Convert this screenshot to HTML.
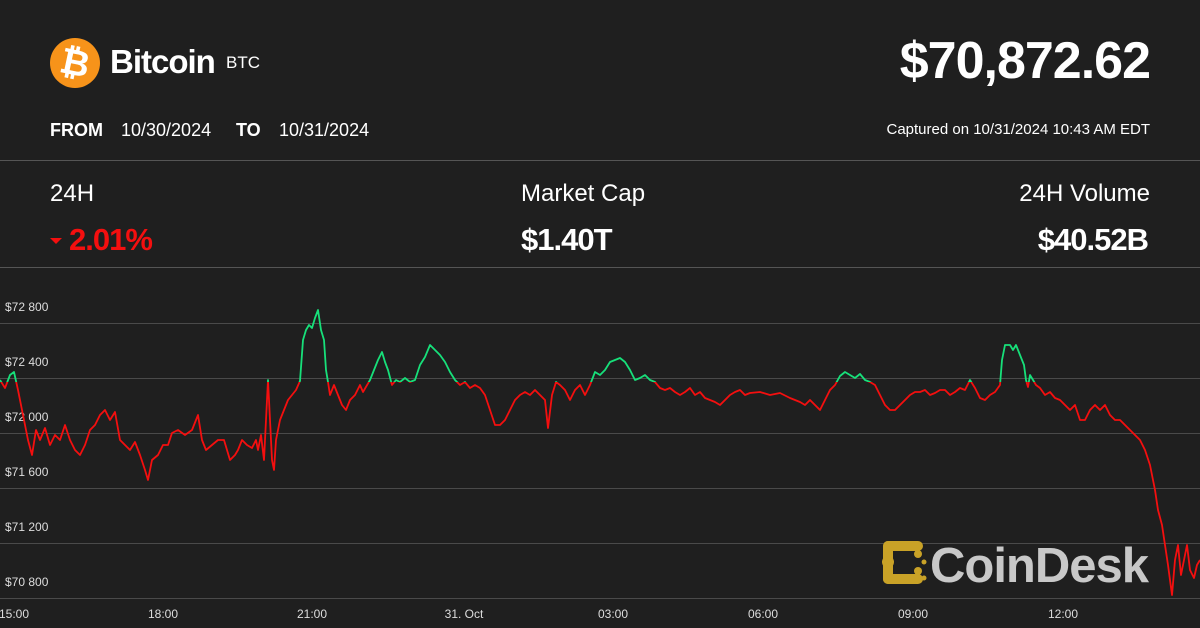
<!DOCTYPE html>
<html><head><meta charset="utf-8"><style>
body{margin:0;width:1200px;height:628px;background:#1f1f1f;overflow:hidden;font-family:"Liberation Sans",sans-serif;color:#fff;position:relative}
.a{position:absolute;white-space:nowrap}
.d{position:absolute;top:120px;font:18px 'Liberation Sans';white-space:nowrap}
</style></head><body>
<div class="a" style="left:50px;top:38px;width:50px;height:50px;border-radius:50%;background:#f7931a"></div>
<div class="a" style="left:60px;top:38px;width:30px;font:bold 36px 'Liberation Sans';line-height:50px;text-align:center;transform:rotate(12deg)">₿</div>
<div class="a" style="left:110px;top:43px;font:bold 33px 'Liberation Sans';letter-spacing:-1px">Bitcoin</div>
<div class="a" style="left:226px;top:53px;font:17px 'Liberation Sans'">BTC</div>
<div class="a" style="right:50px;top:31px;font:bold 52px 'Liberation Sans';letter-spacing:-1px">$70,872.62</div>
<div class="d" style="left:50px;font-weight:bold">FROM</div>
<div class="d" style="left:121px">10/30/2024</div>
<div class="d" style="left:236px;font-weight:bold">TO</div>
<div class="d" style="left:279px">10/31/2024</div>
<div class="a" style="right:50px;top:121px;font:15px 'Liberation Sans'">Captured on 10/31/2024 10:43 AM EDT</div>
<div class="a" style="left:0;top:160px;width:1200px;height:1px;background:#555"></div>
<div class="a" style="left:50px;top:180px;font:24px 'Liberation Sans'">24H</div>
<div class="a" style="left:50px;top:238px;width:0;height:0;border-left:6px solid transparent;border-right:6px solid transparent;border-top:6px solid #f40f0f"></div>
<div class="a" style="left:69px;top:222px;font:bold 31px 'Liberation Sans';color:#f40f0f;letter-spacing:-1px">2.01%</div>
<div class="a" style="left:521px;top:180px;font:24px 'Liberation Sans'">Market Cap</div>
<div class="a" style="left:521px;top:222px;font:bold 31px 'Liberation Sans';letter-spacing:-1px">$1.40T</div>
<div class="a" style="right:50px;top:180px;font:24px 'Liberation Sans'">24H Volume</div>
<div class="a" style="right:52px;top:222px;font:bold 31px 'Liberation Sans';letter-spacing:-1px">$40.52B</div>
<div class="a" style="left:0;top:267px;width:1200px;height:1px;background:#555"></div>
<svg class="a" style="left:0;top:0" width="1200" height="628">
<g stroke="#4a4a4a" stroke-width="1">
<line x1="0" x2="1200" y1="323.5" y2="323.5"/><line x1="0" x2="1200" y1="378.5" y2="378.5"/><line x1="0" x2="1200" y1="433.5" y2="433.5"/><line x1="0" x2="1200" y1="488.5" y2="488.5"/><line x1="0" x2="1200" y1="543.5" y2="543.5"/><line x1="0" x2="1200" y1="598.5" y2="598.5"/></g>
<g fill="#ddd" font-family="Liberation Sans" font-size="12">
<text x="5" y="311">$72 800</text><text x="5" y="366">$72 400</text><text x="5" y="421">$72 000</text><text x="5" y="476">$71 600</text><text x="5" y="531">$71 200</text><text x="5" y="586">$70 800</text>
<text x="14" y="618" text-anchor="middle">15:00</text><text x="163" y="618" text-anchor="middle">18:00</text><text x="312" y="618" text-anchor="middle">21:00</text><text x="464" y="618" text-anchor="middle">31. Oct</text><text x="613" y="618" text-anchor="middle">03:00</text><text x="763" y="618" text-anchor="middle">06:00</text><text x="913" y="618" text-anchor="middle">09:00</text><text x="1063" y="618" text-anchor="middle">12:00</text></g>
<defs><clipPath id="up"><rect x="0" y="0" width="1200" height="382"/></clipPath><clipPath id="dn"><rect x="0" y="382" width="1200" height="300"/></clipPath>
<path id="p" fill="none" stroke-width="1.8" stroke-linejoin="round" d="M0,380 5,388 10,375 14,372 18,390 22,410 28,440 32,455 36,430 40,440 45,428 50,445 55,435 60,440 65,425 70,440 75,450 80,455 85,445 90,430 95,425 100,415 105,410 110,420 115,412 120,440 125,445 130,450 135,442 140,455 145,470 148,480 152,460 158,455 163,445 168,445 172,433 178,430 185,435 192,430 198,415 202,440 206,450 212,445 218,440 224,440 230,460 235,455 238,450 242,440 247,445 252,448 256,440 258,450 261,435 264,460 266,420 268,380 270,420 272,460 274,470 276,440 280,420 284,410 288,400 292,395 296,390 300,381 303,340 306,330 309,325 312,328 315,318 318,310 321,330 324,340 326,370 328,382 330,395 334,385 338,395 342,405 346,410 350,400 355,395 360,385 363,392 370,380 374,370 378,360 382,352 385,362 388,370 392,385 396,380 400,382 405,378 410,382 415,380 420,365 425,357 430,345 435,350 440,355 445,362 450,372 455,380 460,385 465,382 470,388 475,385 480,388 485,395 490,410 495,425 500,425 505,420 510,410 515,400 520,395 525,392 530,395 535,390 540,395 545,400 548,428 552,395 556,382 560,385 565,390 570,400 575,390 580,385 585,395 590,385 595,372 600,375 605,370 610,362 615,360 620,358 625,362 630,370 635,380 640,378 645,375 650,380 655,382 660,388 665,390 670,388 675,392 680,395 685,392 690,388 695,395 700,392 705,398 710,400 715,402 720,405 725,400 730,395 735,392 740,390 745,395 750,393 760,392 770,395 780,393 790,398 800,402 805,405 810,400 815,405 820,410 825,400 830,390 835,385 840,376 845,372 850,375 855,378 860,374 865,380 870,382 875,385 880,395 885,405 890,410 895,410 900,405 905,400 910,395 915,392 920,392 925,390 930,395 935,393 940,390 945,390 950,395 955,392 960,388 965,390 970,380 975,388 980,398 985,400 990,395 995,392 1000,385 1002,360 1005,345 1010,345 1013,350 1016,345 1020,355 1024,365 1026,380 1028,387 1030,375 1033,380 1036,385 1040,388 1045,395 1050,392 1055,398 1060,400 1065,405 1070,410 1075,405 1080,420 1085,420 1090,410 1095,405 1100,410 1105,405 1110,415 1115,420 1120,420 1125,425 1130,430 1135,435 1140,440 1145,450 1150,465 1155,490 1158,510 1162,525 1165,545 1168,565 1170,580 1172,595 1175,560 1178,545 1181,575 1184,560 1187,545 1190,570 1194,578 1197,565 1200,560"/></defs>
<use href="#p" stroke="#f40f0f" clip-path="url(#dn)"/>
<use href="#p" stroke="#17e07a" clip-path="url(#up)"/>
<g fill="#c9a227"><rect x="883" y="541" width="10" height="43" rx="5"/><rect x="883" y="541" width="40" height="10" rx="5"/><rect x="883" y="574" width="40" height="10" rx="5"/><circle cx="918" cy="554" r="4"/><circle cx="918" cy="571" r="4"/><circle cx="888" cy="562" r="6"/><circle cx="924" cy="562" r="2.5"/><circle cx="924" cy="578" r="2.5"/></g>
<text x="930" y="582" fill="#c8c8c8" font-family="Liberation Sans" font-weight="bold" font-size="49" letter-spacing="-1">CoinDesk</text>
</svg>
</body></html>
